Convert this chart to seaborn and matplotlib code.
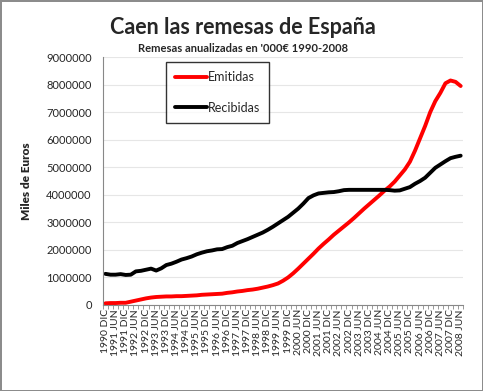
import numpy as np
import pandas as pd
import seaborn as sns
import matplotlib.pyplot as plt
from matplotlib.ticker import FuncFormatter

# quarterly data, 1990 DIC .. 2008 JUN (millions of '000 EUR)
years = list(range(1990, 2009))
emitidas = [0.06, 0.07, 0.07, 0.08, 0.08, 0.12, 0.16, 0.20, 0.24, 0.27,
            0.29, 0.30, 0.31, 0.31, 0.32, 0.32, 0.33, 0.34, 0.35, 0.37,
            0.38, 0.39, 0.40, 0.41, 0.44, 0.46, 0.49, 0.51, 0.54, 0.56,
            0.59, 0.63, 0.67, 0.72, 0.78, 0.88, 1.00, 1.15, 1.32, 1.50,
            1.68, 1.86, 2.05, 2.22, 2.38, 2.55, 2.70, 2.85, 3.00, 3.16,
            3.33, 3.50, 3.66, 3.82, 3.98, 4.15, 4.30, 4.48, 4.70, 4.92,
            5.20, 5.60, 6.05, 6.50, 7.00, 7.40, 7.70, 8.05, 8.15, 8.10,
            7.95]
recibidas = [1.13, 1.10, 1.10, 1.12, 1.09, 1.10, 1.22, 1.24, 1.28, 1.32,
             1.25, 1.33, 1.45, 1.50, 1.57, 1.65, 1.70, 1.76, 1.84, 1.90,
             1.95, 1.98, 2.02, 2.03, 2.10, 2.15, 2.25, 2.32, 2.39, 2.47,
             2.55, 2.63, 2.73, 2.84, 2.96, 3.08, 3.20, 3.35, 3.50, 3.68,
             3.88, 3.98, 4.05, 4.07, 4.09, 4.10, 4.13, 4.17, 4.18, 4.18,
             4.18, 4.18, 4.18, 4.18, 4.18, 4.18, 4.17, 4.15, 4.16, 4.22,
             4.28, 4.40, 4.50, 4.62, 4.80, 4.98, 5.10, 5.22, 5.33, 5.38,
             5.42]

# tick labels every half year: 1990 DIC, 1991 JUN, 1991 DIC ...
labels = ['1990 DIC']
for y in years[1:]:
    labels.append(f'{y} JUN')
    if y < 2008:
        labels.append(f'{y} DIC')

n = len(emitidas)
df = pd.DataFrame({
    'q': list(range(n)) * 2,
    'valor': [v * 1e6 for v in emitidas] + [v * 1e6 for v in recibidas],
    'serie': ['Emitidas'] * n + ['Recibidas'] * n,
})

sns.set_style('white')
plt.rcParams['font.family'] = ['Lato', 'DejaVu Sans']

fig = plt.figure(figsize=(4.83, 3.91), dpi=100, edgecolor='#8c8c8c', linewidth=2)
ax = fig.add_axes([0.213, 0.22, 0.746, 0.634])

sns.lineplot(data=df, x='q', y='valor', hue='serie',
             palette={'Emitidas': '#ff0000', 'Recibidas': '#000000'},
             linewidth=2.8, ax=ax)

ax.set_xlim(-0.5, n - 0.5)
ax.set_ylim(0, 9000000)
ax.set_yticks(np.arange(0, 9000001, 1000000))
ax.yaxis.set_major_formatter(FuncFormatter(lambda v, p: f'{int(v)}'))
ax.set_xticks(np.arange(-0.5, n, 1), minor=True)
ax.set_xticks(np.arange(0, n, 2))
ax.set_xticklabels(labels, rotation=90, fontsize=7.5)
ax.tick_params(axis='y', labelsize=8, length=0, pad=8)
ax.tick_params(axis='x', which='major', length=0, pad=3)
ax.tick_params(axis='x', which='minor', length=3, color='#888888', bottom=True)
ax.grid(axis='y', color='#e6e6e6', linewidth=0.8)
ax.set_xlabel('')
ax.set_ylabel('Miles de Euros', fontsize=8.5, fontweight='heavy', labelpad=10)
for s in ['top', 'right']:
    ax.spines[s].set_visible(False)
for s in ['left', 'bottom']:
    ax.spines[s].set_color('#888888')
    ax.spines[s].set_linewidth(0.8)

leg = ax.legend(loc='upper left', bbox_to_anchor=(0.175, 0.98), fontsize=9,
                frameon=True, fancybox=False, edgecolor='black',
                labelspacing=1.45, handlelength=2.5, handletextpad=0.1,
                borderpad=0.75, borderaxespad=0)
leg.get_frame().set_linewidth(1)

fig.text(0.503, 0.93, 'Caen las remesas de España', ha='center', va='center',
         fontsize=15.5, fontweight='bold')
fig.text(0.503, 0.877, "Remesas anualizadas en '000€ 1990-2008", ha='center',
         va='center', fontsize=8, fontweight='bold')

fig.savefig('out.png', dpi=100, edgecolor=fig.get_edgecolor())
